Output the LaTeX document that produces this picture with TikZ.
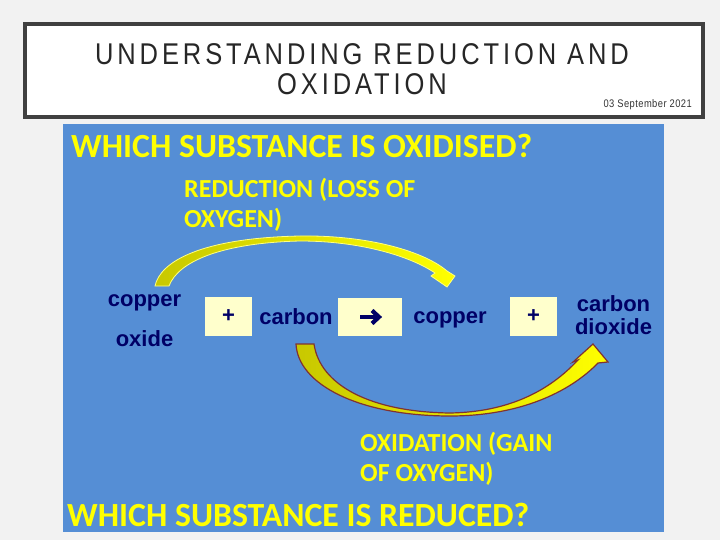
\documentclass[tikz,border=0pt]{standalone}
\usepackage{fontspec}
\setmainfont{Liberation Sans}
\newfontfamily\titlefont[LetterSpace=13,FakeStretch=0.85]{Liberation Sans}
\newfontfamily\datefont[LetterSpace=4,FakeStretch=0.85]{Liberation Sans}
\newfontfamily\calfont{Carlito}
\definecolor{pagebg}{RGB}{242,242,242}
\definecolor{bord}{RGB}{64,64,64}
\definecolor{panel}{RGB}{85,142,213}
\definecolor{ylw}{RGB}{255,255,0}
\definecolor{navy}{RGB}{0,0,102}
\definecolor{boxy}{RGB}{255,255,204}
\definecolor{olive}{RGB}{200,200,0}
\definecolor{lightyl}{RGB}{255,255,130}
\definecolor{brownred}{RGB}{128,50,50}
\begin{document}
\begin{tikzpicture}[x=1pt,y=-1pt,
  yel/.style={text=ylw, font=\calfont\bfseries\fontsize{26}{30}\selectfont, anchor=base west, inner sep=0},
  yelbig/.style={text=ylw, font=\calfont\bfseries\fontsize{33.8}{40}\selectfont, anchor=base west, inner sep=0},
  chem/.style={text=navy, font=\bfseries\fontsize{22}{26}\selectfont, inner sep=0, anchor=base},
  ybox/.style={fill=boxy, draw=none, inner sep=0, minimum height=39pt, text=navy},
  titletxt/.style={font=\titlefont\fontsize{30}{34}\selectfont, text=black!85, inner sep=0, anchor=base}]
\useasboundingbox (0,0) rectangle (720,540);
\fill[pagebg] (0,0) rectangle (720,540);
% title box
\node[draw=bord, line width=4pt, fill=white, minimum width=678pt, minimum height=93pt, inner sep=0] (tbox) at (364,70.5) {};
\node[titletxt] (t1) at (362,65) {UNDERSTANDING REDUCTION AND};
\node[titletxt] (t2) at (362,95) {OXIDATION};
\node[font=\datefont\fontsize{11}{12}\selectfont, text=black!80, inner sep=0, anchor=base east] (date) at (692,108) {03 September 2021};
% panel
\node[fill=panel, minimum width=601pt, minimum height=408pt, inner sep=0] (panel) at (363.5,328) {};
% yellow texts
\node[yelbig] (q1) at (71,158) {WHICH SUBSTANCE IS OXIDISED?};
\node[yel] (red1) at (184,197) {REDUCTION (LOSS OF};
\node[yel] (red2) at (184,228) {OXYGEN)};
\node[yel] (ox1) at (360,451) {OXIDATION (GAIN};
\node[yel] (ox2) at (360,481) {OF OXYGEN)};
\node[yelbig] (q2) at (67,526) {WHICH SUBSTANCE IS REDUCED?};
% boxes
\node[ybox, minimum width=47pt, font=\bfseries\fontsize{22}{26}\selectfont] (p1) at (228.5,316.5) {+};
\node[ybox, minimum width=64pt, minimum height=38pt] (arr) at (370,317) {};
\draw[navy, line width=4.2pt] ([xshift=-10pt]arr.center) -- ([xshift=7pt]arr.center);
\draw[navy, line width=4.2pt, line join=miter, miter limit=4]
  ([xshift=2pt,yshift=6.5pt]arr.center) -- ([xshift=9pt]arr.center) -- ([xshift=2pt,yshift=-6.5pt]arr.center);
\node[ybox, minimum width=47pt, font=\bfseries\fontsize{22}{26}\selectfont] (p2) at (533.5,316.5) {+};
% chemical names
\node[chem] (cuo1) at (144.5,306) {copper};
\node[chem] (cuo2) at (144.5,346) {oxide};
\node[chem] (c) at (296,324) {carbon};
\node[chem] (cu) at (450,323) {copper};
\node[chem] (co1) at (613.5,311) {carbon};
\node[chem] (co2) at (613.5,334) {dioxide};
% top arrow (reduction)
\path[draw=lightyl, line width=0.8pt, left color=olive, right color=ylw]
  (155,286) .. controls (160,262) and (200,238) .. (300,236)
  .. controls (370,235) and (425,252) .. (447,271)
  -- (455,276) -- (447,287) -- (431,276) -- (435,273)
  .. controls (410,256) and (360,241) .. (300,241)
  .. controls (220,243) and (178,262) .. (169,286) -- cycle;
% bottom arrow (oxidation)
\path[draw=brownred, line width=1.2pt, left color=olive, right color=ylw]
  (296,344) .. controls (298,385) and (360,416) .. (450,416)
  .. controls (520,416) and (570,392) .. (598,363)
  -- (608,362) -- (593,344) -- (573,362) -- (578,360)
  .. controls (550,390) and (510,412) .. (450,413)
  .. controls (370,412) and (320,385) .. (314,344) -- cycle;
\end{tikzpicture}
\end{document}
